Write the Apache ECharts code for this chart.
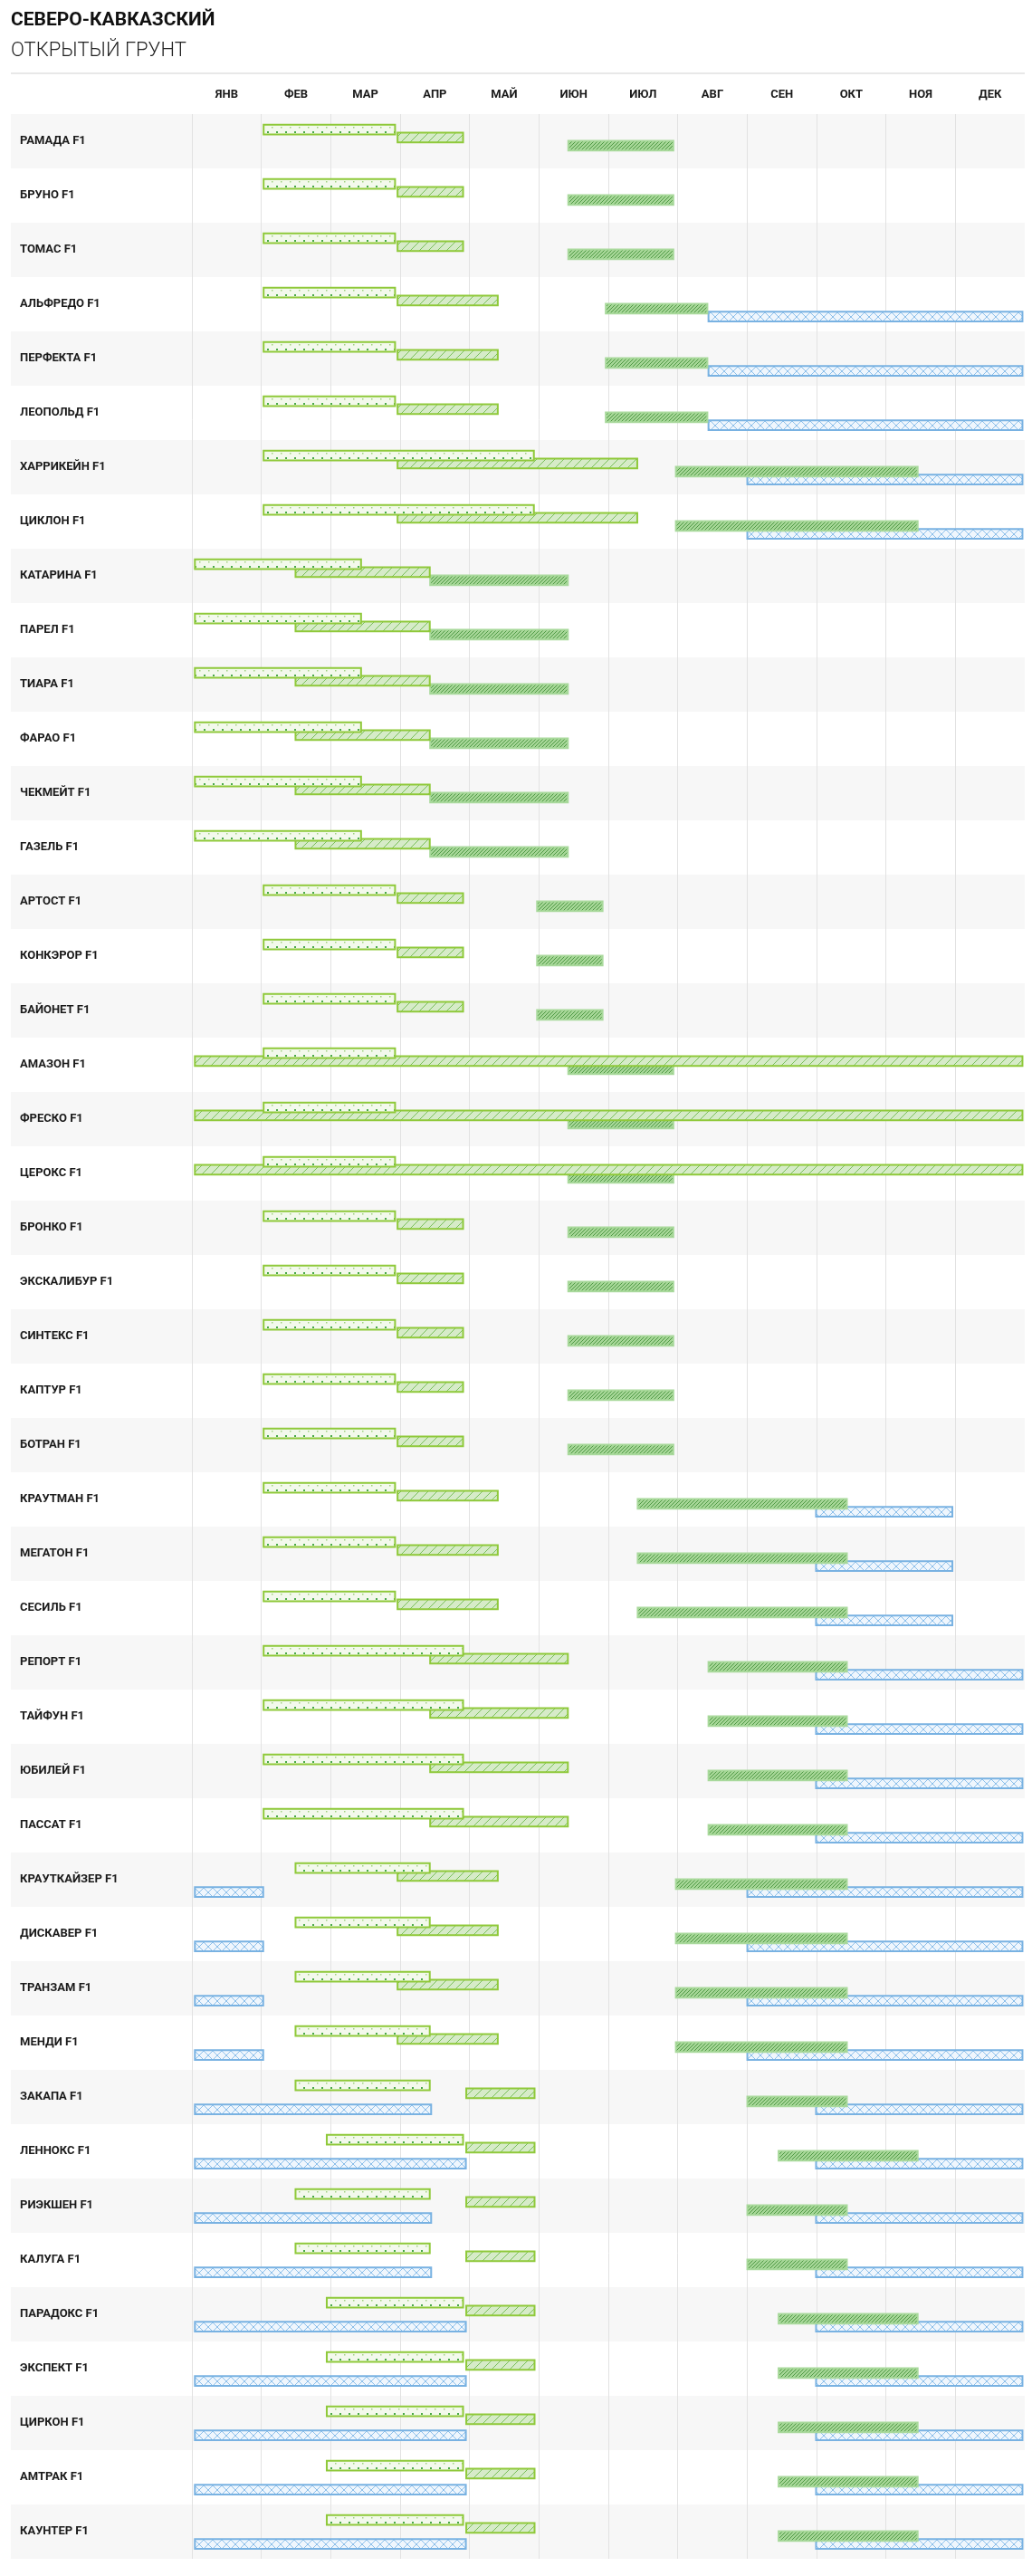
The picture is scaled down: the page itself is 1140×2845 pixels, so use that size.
<!DOCTYPE html>
<html>
<head>
<meta charset="utf-8">
<title>Северо-Кавказский — открытый грунт</title>
<script src="https://cdn.jsdelivr.net/npm/echarts@6/dist/echarts.min.js"></script>
<style>
  html, body { margin: 0; padding: 0; background: #fff; }
  #chart { width: 1140px; height: 2845px; }
</style>
</head>
<body>
<div id="chart"></div>
<script>
var months = ['ЯНВ', 'ФЕВ', 'МАР', 'АПР', 'МАЙ', 'ИЮН', 'ИЮЛ', 'АВГ', 'СЕН', 'ОКТ', 'НОЯ', 'ДЕК'];

var varieties = [
	'РАМАДА F1', 'БРУНО F1', 'ТОМАС F1', 'АЛЬФРЕДО F1', 'ПЕРФЕКТА F1', 'ЛЕОПОЛЬД F1',
	'ХАРРИКЕЙН F1', 'ЦИКЛОН F1', 'КАТАРИНА F1', 'ПАРЕЛ F1', 'ТИАРА F1', 'ФАРАО F1',
	'ЧЕКМЕЙТ F1', 'ГАЗЕЛЬ F1', 'АРТОСТ F1', 'КОНКЭРОР F1', 'БАЙОНЕТ F1', 'АМАЗОН F1',
	'ФРЕСКО F1', 'ЦЕРОКС F1', 'БРОНКО F1', 'ЭКСКАЛИБУР F1', 'СИНТЕКС F1', 'КАПТУР F1',
	'БОТРАН F1', 'КРАУТМАН F1', 'МЕГАТОН F1', 'СЕСИЛЬ F1', 'РЕПОРТ F1', 'ТАЙФУН F1',
	'ЮБИЛЕЙ F1', 'ПАССАТ F1', 'КРАУТКАЙЗЕР F1', 'ДИСКАВЕР F1', 'ТРАНЗАМ F1', 'МЕНДИ F1',
	'ЗАКАПА F1', 'ЛЕННОКС F1', 'РИЭКШЕН F1', 'КАЛУГА F1', 'ПАРАДОКС F1', 'ЭКСПЕКТ F1',
	'ЦИРКОН F1', 'АМТРАК F1', 'КАУНТЕР F1'
];

// [row, start, end] — positions in months, 0 = start of January, 12 = end of December
var sowing = [
	[0, 1.02, 2.94], [1, 1.02, 2.94], [2, 1.02, 2.94],
	[3, 1.02, 2.94], [4, 1.02, 2.94], [5, 1.02, 2.94],
	[6, 1.02, 4.94], [7, 1.02, 4.94],
	[8, 0.03, 2.45], [9, 0.03, 2.45], [10, 0.03, 2.45], [11, 0.03, 2.45], [12, 0.03, 2.45], [13, 0.03, 2.45],
	[14, 1.02, 2.94], [15, 1.02, 2.94], [16, 1.02, 2.94],
	[17, 1.02, 2.94], [18, 1.02, 2.94], [19, 1.02, 2.94],
	[20, 1.02, 2.94], [21, 1.02, 2.94], [22, 1.02, 2.94], [23, 1.02, 2.94], [24, 1.02, 2.94],
	[25, 1.02, 2.94], [26, 1.02, 2.94], [27, 1.02, 2.94],
	[28, 1.02, 3.92], [29, 1.02, 3.92], [30, 1.02, 3.92], [31, 1.02, 3.92],
	[32, 1.48, 3.44], [33, 1.48, 3.44], [34, 1.48, 3.44], [35, 1.48, 3.44],
	[36, 1.48, 3.44], [37, 1.93, 3.92], [38, 1.48, 3.44], [39, 1.48, 3.44],
	[40, 1.93, 3.92], [41, 1.93, 3.92], [42, 1.93, 3.92], [43, 1.93, 3.92], [44, 1.93, 3.92]
];

var transplant = [
	[0, 2.95, 3.92], [1, 2.95, 3.92], [2, 2.95, 3.92],
	[3, 2.95, 4.42], [4, 2.95, 4.42], [5, 2.95, 4.42],
	[6, 2.95, 6.43], [7, 2.95, 6.43],
	[8, 1.48, 3.44], [9, 1.48, 3.44], [10, 1.48, 3.44], [11, 1.48, 3.44], [12, 1.48, 3.44], [13, 1.48, 3.44],
	[14, 2.95, 3.92], [15, 2.95, 3.92], [16, 2.95, 3.92],
	[17, 0.03, 11.98], [18, 0.03, 11.98], [19, 0.03, 11.98],
	[20, 2.95, 3.92], [21, 2.95, 3.92], [22, 2.95, 3.92], [23, 2.95, 3.92], [24, 2.95, 3.92],
	[25, 2.95, 4.42], [26, 2.95, 4.42], [27, 2.95, 4.42],
	[28, 3.42, 5.43], [29, 3.42, 5.43], [30, 3.42, 5.43], [31, 3.42, 5.43],
	[32, 2.95, 4.42], [33, 2.95, 4.42], [34, 2.95, 4.42], [35, 2.95, 4.42],
	[36, 3.94, 4.95], [37, 3.94, 4.95], [38, 3.94, 4.95], [39, 3.94, 4.95],
	[40, 3.94, 4.95], [41, 3.94, 4.95], [42, 3.94, 4.95], [43, 3.94, 4.95], [44, 3.94, 4.95]
];

var harvest = [
	[0, 5.41, 6.95], [1, 5.41, 6.95], [2, 5.41, 6.95],
	[3, 5.95, 7.44], [4, 5.95, 7.44], [5, 5.95, 7.44],
	[6, 6.96, 10.47], [7, 6.96, 10.47],
	[8, 3.42, 5.43], [9, 3.42, 5.43], [10, 3.42, 5.43], [11, 3.42, 5.43], [12, 3.42, 5.43], [13, 3.42, 5.43],
	[14, 4.96, 5.93], [15, 4.96, 5.93], [16, 4.96, 5.93],
	[17, 5.41, 6.95], [18, 5.41, 6.95], [19, 5.41, 6.95],
	[20, 5.41, 6.95], [21, 5.41, 6.95], [22, 5.41, 6.95], [23, 5.41, 6.95], [24, 5.41, 6.95],
	[25, 6.41, 9.45], [26, 6.41, 9.45], [27, 6.41, 9.45],
	[28, 7.43, 9.45], [29, 7.43, 9.45], [30, 7.43, 9.45], [31, 7.43, 9.45],
	[32, 6.96, 9.45], [33, 6.96, 9.45], [34, 6.96, 9.45], [35, 6.96, 9.45],
	[36, 7.99, 9.45], [37, 8.44, 10.47], [38, 7.99, 9.45], [39, 7.99, 9.45],
	[40, 8.44, 10.47], [41, 8.44, 10.47], [42, 8.44, 10.47], [43, 8.44, 10.47], [44, 8.44, 10.47]
];

var storage = [
	[3, 7.43, 11.98], [4, 7.43, 11.98], [5, 7.43, 11.98],
	[6, 7.99, 11.98], [7, 7.99, 11.98],
	[25, 8.98, 10.97], [26, 8.98, 10.97], [27, 8.98, 10.97],
	[28, 8.98, 11.98], [29, 8.98, 11.98], [30, 8.98, 11.98], [31, 8.98, 11.98],
	[32, 0.03, 1.04], [32, 7.99, 11.98], [33, 0.03, 1.04], [33, 7.99, 11.98],
	[34, 0.03, 1.04], [34, 7.99, 11.98], [35, 0.03, 1.04], [35, 7.99, 11.98],
	[36, 0.03, 3.46], [36, 8.98, 11.98], [37, 0.03, 3.96], [37, 8.98, 11.98],
	[38, 0.03, 3.46], [38, 8.98, 11.98], [39, 0.03, 3.46], [39, 8.98, 11.98],
	[40, 0.03, 3.96], [40, 8.98, 11.98], [41, 0.03, 3.96], [41, 8.98, 11.98],
	[42, 0.03, 3.96], [42, 8.98, 11.98], [43, 0.03, 3.96], [43, 8.98, 11.98],
	[44, 0.03, 3.96], [44, 8.98, 11.98]
];

var myChart = echarts.init(document.getElementById('chart'));

var GREEN = '#8fc93a';
var BLUE = '#79b2e2';
var STRIPE = '#f7f7f7';
var LABEL_LEFT = 12;

// vertical placement of each stage inside its row (fractions of the row height)
var LANE_TOP = 0.178;
var LANE_STEP = 0.148;
var LANE_H = 0.212;

function makeTile(w, h, bg, draw) {
	var c = document.createElement('canvas');
	c.width = w;
	c.height = h;
	var ctx = c.getContext('2d');
	ctx.fillStyle = bg;
	ctx.fillRect(0, 0, w, h);
	draw(ctx, w, h);
	return { image: c, repeat: 'repeat' };
}

function diagonal(ctx, s, dir) {
	ctx.beginPath();
	if (dir > 0) {
		ctx.moveTo(0, s); ctx.lineTo(s, 0);
		ctx.moveTo(-1, 1); ctx.lineTo(1, -1);
		ctx.moveTo(s - 1, s + 1); ctx.lineTo(s + 1, s - 1);
	} else {
		ctx.moveTo(0, 0); ctx.lineTo(s, s);
		ctx.moveTo(s - 1, -1); ctx.lineTo(s + 1, 1);
		ctx.moveTo(-1, s - 1); ctx.lineTo(1, s + 1);
	}
	ctx.stroke();
}

var dotsFill = makeTile(10, 10, '#f3f9ec', function(ctx) {
	ctx.fillStyle = '#9fd27f';
	ctx.fillRect(0, 0, 1.5, 1.5);
	ctx.fillStyle = '#4aa94a';
	ctx.fillRect(5, 5, 2, 2);
});

var hatchFill = makeTile(10, 10, '#d6ebc8', function(ctx, w) {
	ctx.strokeStyle = '#79c05a';
	ctx.lineWidth = 1;
	diagonal(ctx, w, 1);
});

var denseFill = makeTile(4, 4, '#a6d697', function(ctx, w) {
	ctx.strokeStyle = '#4f9a45';
	ctx.lineWidth = 1;
	diagonal(ctx, w, 1);
});

var crossFill = makeTile(10, 10, '#eff6fd', function(ctx, w) {
	ctx.strokeStyle = '#8cbfea';
	ctx.lineWidth = 1;
	diagonal(ctx, w, 1);
	diagonal(ctx, w, -1);
});

function stageRenderer(lane, fill, stroke, lineWidth) {
	return function(params, api) {
		var row = api.value(0);
		var p1 = api.coord([api.value(1), row]);
		var p2 = api.coord([api.value(2), row]);
		var band = api.size([0, 1])[1];
		var top = p1[1] - band / 2 + band * (LANE_TOP + LANE_STEP * lane);
		var h = band * LANE_H;
		return {
			type: 'rect',
			shape: {
				x: p1[0] + lineWidth / 2,
				y: top + lineWidth / 2,
				width: p2[0] - p1[0] - lineWidth,
				height: h - lineWidth
			},
			style: { fill: fill, stroke: stroke, lineWidth: lineWidth }
		};
	};
}

// grey stripe under the variety names (the plot part is the yAxis splitArea)
function labelStripe(params, api) {
	var row = api.value(0);
	if (row % 2 !== 0) return;
	var p = api.coord([0, row]);
	var band = api.size([0, 1])[1];
	return {
		type: 'rect',
		shape: { x: LABEL_LEFT, y: p[1] - band / 2, width: params.coordSys.x - LABEL_LEFT, height: band },
		style: { fill: STRIPE }
	};
}

var rows = varieties.map(function(name, i) { return [i]; });

option = {
	animation: false,
	backgroundColor: '#fff',
	textStyle: { fontFamily: 'Roboto' },
	graphic: [
		{
			type: 'text', left: LABEL_LEFT, top: 12,
			style: { text: 'СЕВЕРО-КАВКАЗСКИЙ', font: 'bold 21px Roboto', fill: '#111' }
		}, {
			type: 'text', left: LABEL_LEFT, top: 45,
			style: { text: 'ОТКРЫТЫЙ ГРУНТ', font: '300 22px Roboto', fill: '#222' }
		}, {
			type: 'line',
			shape: { x1: LABEL_LEFT, y1: 81, x2: 1132, y2: 81 },
			style: { stroke: '#e8e8e8', lineWidth: 2 }
		}
	],
	grid: {
		left: 212,
		right: 8,
		top: 126,
		bottom: 19
	},
	xAxis: [{
		type: 'value',
		min: 0,
		max: 12,
		interval: 1,
		axisLine: { show: false },
		axisTick: { show: false },
		axisLabel: { show: false },
		splitLine: { show: true, showMaxLine: false, lineStyle: { color: '#e2e2e2', width: 1 } }
	}, {
		type: 'category',
		position: 'top',
		data: months,
		boundaryGap: true,
		axisLine: { show: false },
		axisTick: { show: false },
		splitLine: { show: false },
		axisLabel: {
			interval: 0,
			margin: 15,
			color: '#1a1a1a',
			fontWeight: 'bold',
			fontSize: 13,
			fontFamily: 'Roboto'
		}
	}],
	yAxis: {
		type: 'category',
		inverse: true,
		data: varieties,
		axisLine: { show: false },
		axisTick: { show: false },
		splitLine: { show: false },
		splitArea: { show: true, interval: 0, areaStyle: { color: [STRIPE, '#ffffff'] } },
		axisLabel: {
			interval: 0,
			align: 'left',
			margin: 190,
			color: '#1a1a1a',
			fontWeight: 'bold',
			fontSize: 13,
			fontFamily: 'Roboto'
		}
	},
	series: [{
			name: 'полосы',
			type: 'custom',
			renderItem: labelStripe,
			data: rows,
			encode: { y: 0 },
			z: -1,
			silent: true
		}, {
			name: 'хранение',
			type: 'custom',
			renderItem: stageRenderer(3, crossFill, BLUE, 2),
			encode: { x: [1, 2], y: 0 },
			data: storage
		}, {
			name: 'уборка',
			type: 'custom',
			renderItem: stageRenderer(2, denseFill, '#a9d99c', 2),
			encode: { x: [1, 2], y: 0 },
			data: harvest
		}, {
			name: 'высадка',
			type: 'custom',
			renderItem: stageRenderer(1, hatchFill, GREEN, 2),
			encode: { x: [1, 2], y: 0 },
			data: transplant
		}, {
			name: 'посев',
			type: 'custom',
			renderItem: stageRenderer(0, dotsFill, GREEN, 2),
			encode: { x: [1, 2], y: 0 },
			data: sowing
		}
	]
};

myChart.setOption(option);
</script>
</body>
</html>
